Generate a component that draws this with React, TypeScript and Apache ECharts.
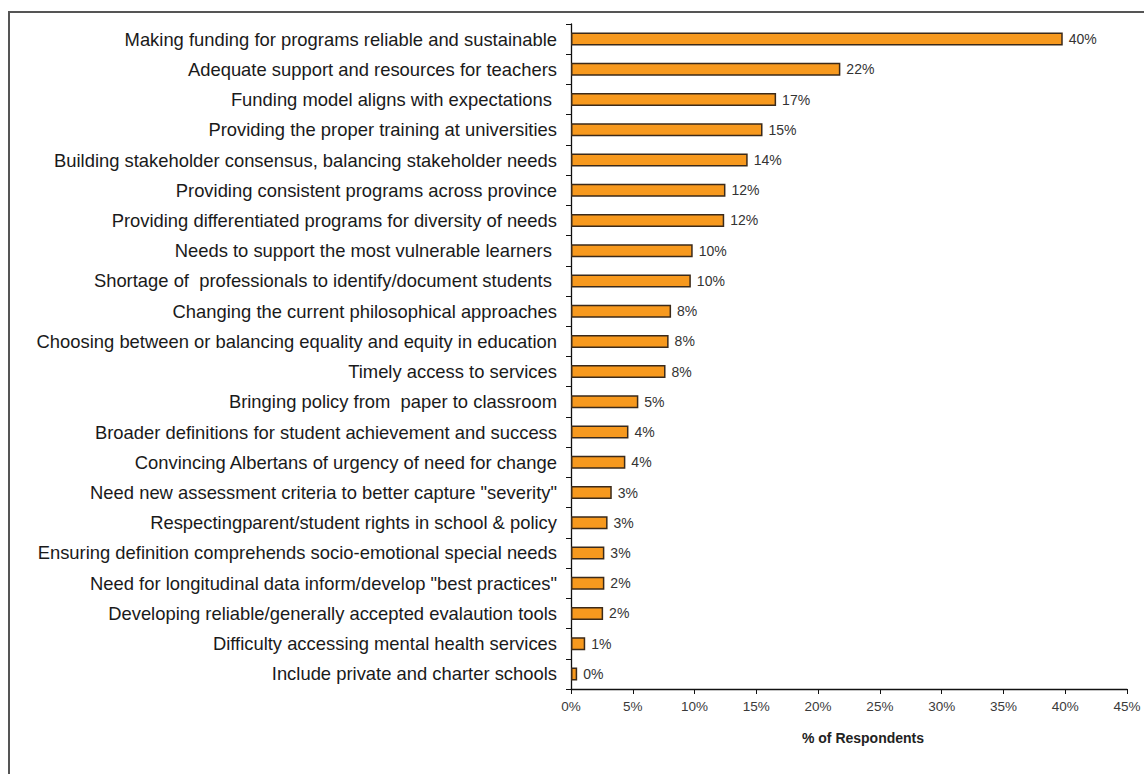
import React, { useEffect, useRef } from "react";
import * as echarts from "echarts";

const categories = [
  "Making funding for programs reliable and sustainable",
  "Adequate support and resources for teachers",
  "Funding model aligns with expectations ",
  "Providing the proper training at universities",
  "Building stakeholder consensus, balancing stakeholder needs",
  "Providing consistent programs across province",
  "Providing differentiated programs for diversity of needs",
  "Needs to support the most vulnerable learners ",
  "Shortage of  professionals to identify/document students ",
  "Changing the current philosophical approaches",
  "Choosing between or balancing equality and equity in education",
  "Timely access to services",
  "Bringing policy from  paper to classroom",
  "Broader definitions for student achievement and success",
  "Convincing Albertans of urgency of need for change",
  "Need new assessment criteria to better capture \"severity\"",
  "Respectingparent/student rights in school & policy",
  "Ensuring definition comprehends socio-emotional special needs",
  "Need for longitudinal data inform/develop \"best practices\"",
  "Developing reliable/generally accepted evalaution tools",
  "Difficulty accessing mental health services",
  "Include private and charter schools",
];

const values = [
  39.8, 21.8, 16.6, 15.5, 14.3, 12.5, 12.4, 9.85, 9.7, 8.1, 7.9, 7.65, 5.45,
  4.65, 4.4, 3.3, 2.96, 2.7, 2.7, 2.6, 1.15, 0.5,
];

const valueLabels = [
  "40%", "22%", "17%", "15%", "14%", "12%", "12%", "10%", "10%", "8%", "8%",
  "8%", "5%", "4%", "4%", "3%", "3%", "3%", "2%", "2%", "1%", "0%",
];

const xTicks = { min: 0, max: 45, interval: 5 };
const xAxisTitle = "% of Respondents";

export default function App() {
  const ref = useRef<HTMLDivElement>(null);
  useEffect(() => {
    if (!ref.current) return;
    const chart = echarts.init(ref.current, undefined, { renderer: "svg" });
    chart.setOption({
      animation: false,
      backgroundColor: "#ffffff",
      textStyle: { fontFamily: "Liberation Sans, Arial, sans-serif" },
      grid: { left: 571, right: 17, top: 24, bottom: 85, containLabel: false },
      graphic: [
        {
          type: "rect",
          shape: { x: 9, y: 12, width: 1200, height: 800 },
          style: { fill: "none", stroke: "#555555", lineWidth: 2 },
          silent: true,
        },
      ],
      xAxis: {
        type: "value",
        min: xTicks.min,
        max: xTicks.max,
        interval: xTicks.interval,
        name: xAxisTitle,
        nameLocation: "middle",
        nameGap: 42,
        nameTextStyle: {
          fontSize: 14,
          fontWeight: "bold",
          color: "#222222",
          padding: [0, 0, 0, 28],
        },
        axisLine: { show: true, lineStyle: { color: "#111111", width: 1.3 } },
        axisTick: { show: true, length: 5, lineStyle: { color: "#111111" } },
        axisLabel: {
          formatter: "{value}%",
          fontSize: 13.5,
          color: "#3a3a3a",
          margin: 10,
        },
        splitLine: { show: false },
      },
      yAxis: {
        type: "category",
        data: categories,
        inverse: true,
        axisLine: { show: true, lineStyle: { color: "#111111", width: 1.3 } },
        axisTick: { show: true, length: 5, lineStyle: { color: "#111111" } },
        axisLabel: {
          fontSize: 18.4,
          color: "#1a1a1a",
          margin: 14,
        },
      },
      series: [
        {
          type: "bar",
          data: values,
          barWidth: 13,
          itemStyle: {
            color: "#F7991E",
            borderColor: "#3b2a1a",
            borderWidth: 1.5,
          },
          label: {
            show: true,
            position: "right",
            distance: 6,
            fontSize: 14,
            color: "#333333",
            formatter: (p: any) => valueLabels[p.dataIndex],
          },
        },
      ],
    });
    return () => chart.dispose();
  }, []);
  return (
    <div
      ref={ref}
      style={{ position: "fixed", left: 0, top: 0, width: 1144, height: 774 }}
    />
  );
}
